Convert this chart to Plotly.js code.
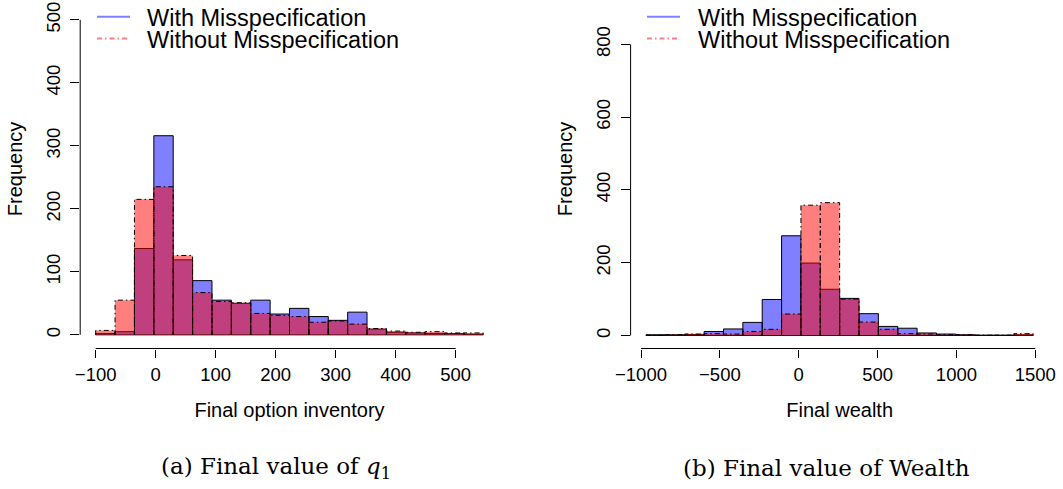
<!DOCTYPE html>
<html>
<head>
<meta charset="utf-8">
<script src="https://cdn.plot.ly/plotly-3.0.1.min.js"></script>
<style>html,body{margin:0;padding:0;background:#fff;}#chart{width:1063px;height:489px;}</style>
</head>
<body>
<div id="chart"></div>
<script>
// ---- Data ----
// Panel (a): final option inventory, 20 equal bins
const binStartA = -100;
const binWidthA = 32.3;
const withMisA    = [2, 5, 137, 316, 119, 86, 55, 50, 55, 33, 42, 29, 23, 36, 9, 4, 3, 2, 2, 1];
const withoutMisA = [7, 55, 215, 235, 126, 67, 53, 51, 34, 31, 29, 20, 22, 17, 10, 6, 4, 5, 3, 3];
const xTicksA = [-100, 0, 100, 200, 300, 400, 500];
const yTicksA = [0, 100, 200, 300, 400, 500];

// Panel (b): final wealth, 20 equal bins
const binStartB = -968;
const binWidthB = 122.75;
const withMisB    = [2, 2, 3, 11, 18, 36, 99, 274, 199, 127, 102, 60, 25, 20, 7, 4, 2, 1, 1, 2];
const withoutMisB = [1, 2, 4, 5, 4, 11, 17, 59, 358, 365, 100, 37, 17, 5, 4, 2, 2, 1, 1, 5];
const xTicksB = [-1000, -500, 0, 500, 1000, 1500];
const yTicksB = [0, 200, 400, 600, 800];

const seriesNames = ['With Misspecification', 'Without Misspecification'];
const captions = ['(a) Final value of <i>q</i><sub>1</sub>', '(b) Final value of Wealth'];
const xTitles = ['Final option inventory', 'Final wealth'];
const yTitle = 'Frequency';

// ---- Helpers ----
function centers(start, w, n) { const c = []; for (let i = 0; i < n; i++) c.push(start + (i + 0.5) * w); return c; }
function outline(start, w, h) {
  const xs = [], ys = [];
  for (let i = 0; i < h.length; i++) {
    const a = start + i * w, b = a + w;
    xs.push(a, a, b, b, null); ys.push(0, h[i], h[i], 0, null);
  }
  return {xs, ys};
}
function fmt(v) { return v < 0 ? '\u2212' + Math.abs(v) : String(v); }

const BLUE = 'rgba(0,0,255,0.5)';
const RED = 'rgba(255,0,0,0.5)';
const DASHDOT = '5px,3px,1.5px,3px';
const SANS = 'Liberation Sans, Arial, Helvetica, sans-serif';
const SERIF = 'DejaVu Serif, Liberation Serif, serif';

function panelTraces(start, w, withMis, withoutMis, xa, ya) {
  const cx = centers(start, w, withMis.length);
  const o = outline(start, w, withoutMis);
  return [
    {type: 'bar', x: cx, y: withMis, width: w, xaxis: xa, yaxis: ya, name: seriesNames[0],
     marker: {color: BLUE, line: {color: '#000', width: 1}}, showlegend: false, hoverinfo: 'x+y'},
    {type: 'bar', x: cx, y: withoutMis, width: w, xaxis: xa, yaxis: ya, name: seriesNames[1],
     marker: {color: RED, line: {width: 0}}, showlegend: false, hoverinfo: 'x+y'},
    {type: 'scatter', mode: 'lines', x: o.xs, y: o.ys, xaxis: xa, yaxis: ya, name: seriesNames[1] + ' border',
     line: {color: '#000', width: 1, dash: DASHDOT}, connectgaps: false, showlegend: false, hoverinfo: 'skip'}
  ];
}

const data = [].concat(
  panelTraces(binStartA, binWidthA, withMisA, withoutMisA, 'x', 'y'),
  panelTraces(binStartB, binWidthB, withMisB, withoutMisB, 'x2', 'y2')
);

const W = 1063, H = 489;
const px = v => v / W;
const py = v => 1 - v / H;

function xAxis(domain, range, ticks, title) {
  return {
    domain: domain, range: range, showgrid: false, zeroline: false, showline: false,
    ticks: 'outside', ticklen: 8, tickwidth: 1, tickcolor: '#000',
    tickmode: 'array', tickvals: ticks, ticktext: ticks.map(fmt),
    tickfont: {family: SANS, size: 18.5, color: '#000'}, ticklabelstandoff: 1,
    title: {text: title, font: {family: SANS, size: 20, color: '#000'}, standoff: 19},
    fixedrange: true
  };
}
function yAxis(domain, range, ticks) {
  return {
    domain: domain, range: range, showgrid: false, zeroline: false, showline: false,
    ticks: 'outside', ticklen: 9, tickwidth: 1, tickcolor: '#000',
    tickmode: 'array', tickvals: ticks, ticktext: ticks.map(fmt), tickangle: -90,
    tickfont: {family: SANS, size: 18.5, color: '#000'}, ticklabelstandoff: 3,
    fixedrange: true
  };
}

const shapes = [
  // R-style axis lines spanning first to last tick
  {type: 'line', xref: 'x', yref: 'y domain', x0: xTicksA[0], x1: xTicksA[xTicksA.length - 1], y0: 0, y1: 0, line: {color: '#000', width: 1}},
  {type: 'line', xref: 'x domain', yref: 'y', x0: 0, x1: 0, y0: yTicksA[0], y1: yTicksA[yTicksA.length - 1], line: {color: '#000', width: 1}},
  {type: 'line', xref: 'x2', yref: 'y2 domain', x0: xTicksB[0], x1: xTicksB[xTicksB.length - 1], y0: 0, y1: 0, line: {color: '#000', width: 1}},
  {type: 'line', xref: 'x2 domain', yref: 'y2', x0: 0, x1: 0, y0: yTicksB[0], y1: yTicksB[yTicksB.length - 1], line: {color: '#000', width: 1}},
  // legend keys
  {type: 'line', xref: 'paper', yref: 'paper', x0: px(97), x1: px(130), y0: py(16.7), y1: py(16.7), line: {color: BLUE, width: 2}},
  {type: 'line', xref: 'paper', yref: 'paper', x0: px(97), x1: px(130), y0: py(38.5), y1: py(38.5), line: {color: RED, width: 2, dash: DASHDOT}},
  {type: 'line', xref: 'paper', yref: 'paper', x0: px(647), x1: px(680), y0: py(16.7), y1: py(16.7), line: {color: BLUE, width: 2}},
  {type: 'line', xref: 'paper', yref: 'paper', x0: px(647), x1: px(680), y0: py(38.5), y1: py(38.5), line: {color: RED, width: 2, dash: DASHDOT}}
];

function txt(text, x, y, size, family, xanchor, angle) {
  return {text: text, xref: 'paper', yref: 'paper', x: px(x), y: py(y), showarrow: false,
          xanchor: xanchor || 'center', yanchor: 'middle', textangle: angle || 0,
          font: {family: family, size: size, color: '#000'}};
}

const annotations = [
  txt(seriesNames[0], 145, 18, 23.5, SANS, 'left'),
  txt(seriesNames[1], 145, 39.5, 23.5, SANS, 'left'),
  txt(seriesNames[0], 695.5, 18.3, 23.5, SANS, 'left'),
  txt(seriesNames[1], 695.5, 39.7, 23.5, SANS, 'left'),
  txt(yTitle, 15.2, 169, 20, SANS, 'center', -90),
  txt(yTitle, 565.2, 169, 20, SANS, 'center', -90),
  txt(captions[0], 276, 468, 23, SERIF),
  txt(captions[1], 826, 468, 23, SERIF)
];

const layout = {
  width: W, height: H,
  margin: {l: 0, r: 0, t: 0, b: 0, autoexpand: false},
  paper_bgcolor: '#fff', plot_bgcolor: 'rgba(0,0,0,0)',
  barmode: 'overlay', showlegend: false,
  xaxis: xAxis([px(80.2), px(498.8)], [-125.8, 571.8], xTicksA, xTitles[0]),
  yaxis: yAxis([py(348.5), py(7.2)], [-21.7, 520], yTicksA),
  xaxis2: xAxis([px(630.6), px(1048.7)], [-1066, 1585], xTicksB, xTitles[1]),
  yaxis2: yAxis([py(348.5), py(7.2)], [-35.7, 902], yTicksB),
  shapes: shapes,
  annotations: annotations
};
layout.xaxis.anchor = 'y';
layout.yaxis.anchor = 'x';
layout.xaxis2.anchor = 'y2';
layout.yaxis2.anchor = 'x2';

Plotly.newPlot('chart', data, layout, {staticPlot: true, displayModeBar: false});
</script>
</body>
</html>
